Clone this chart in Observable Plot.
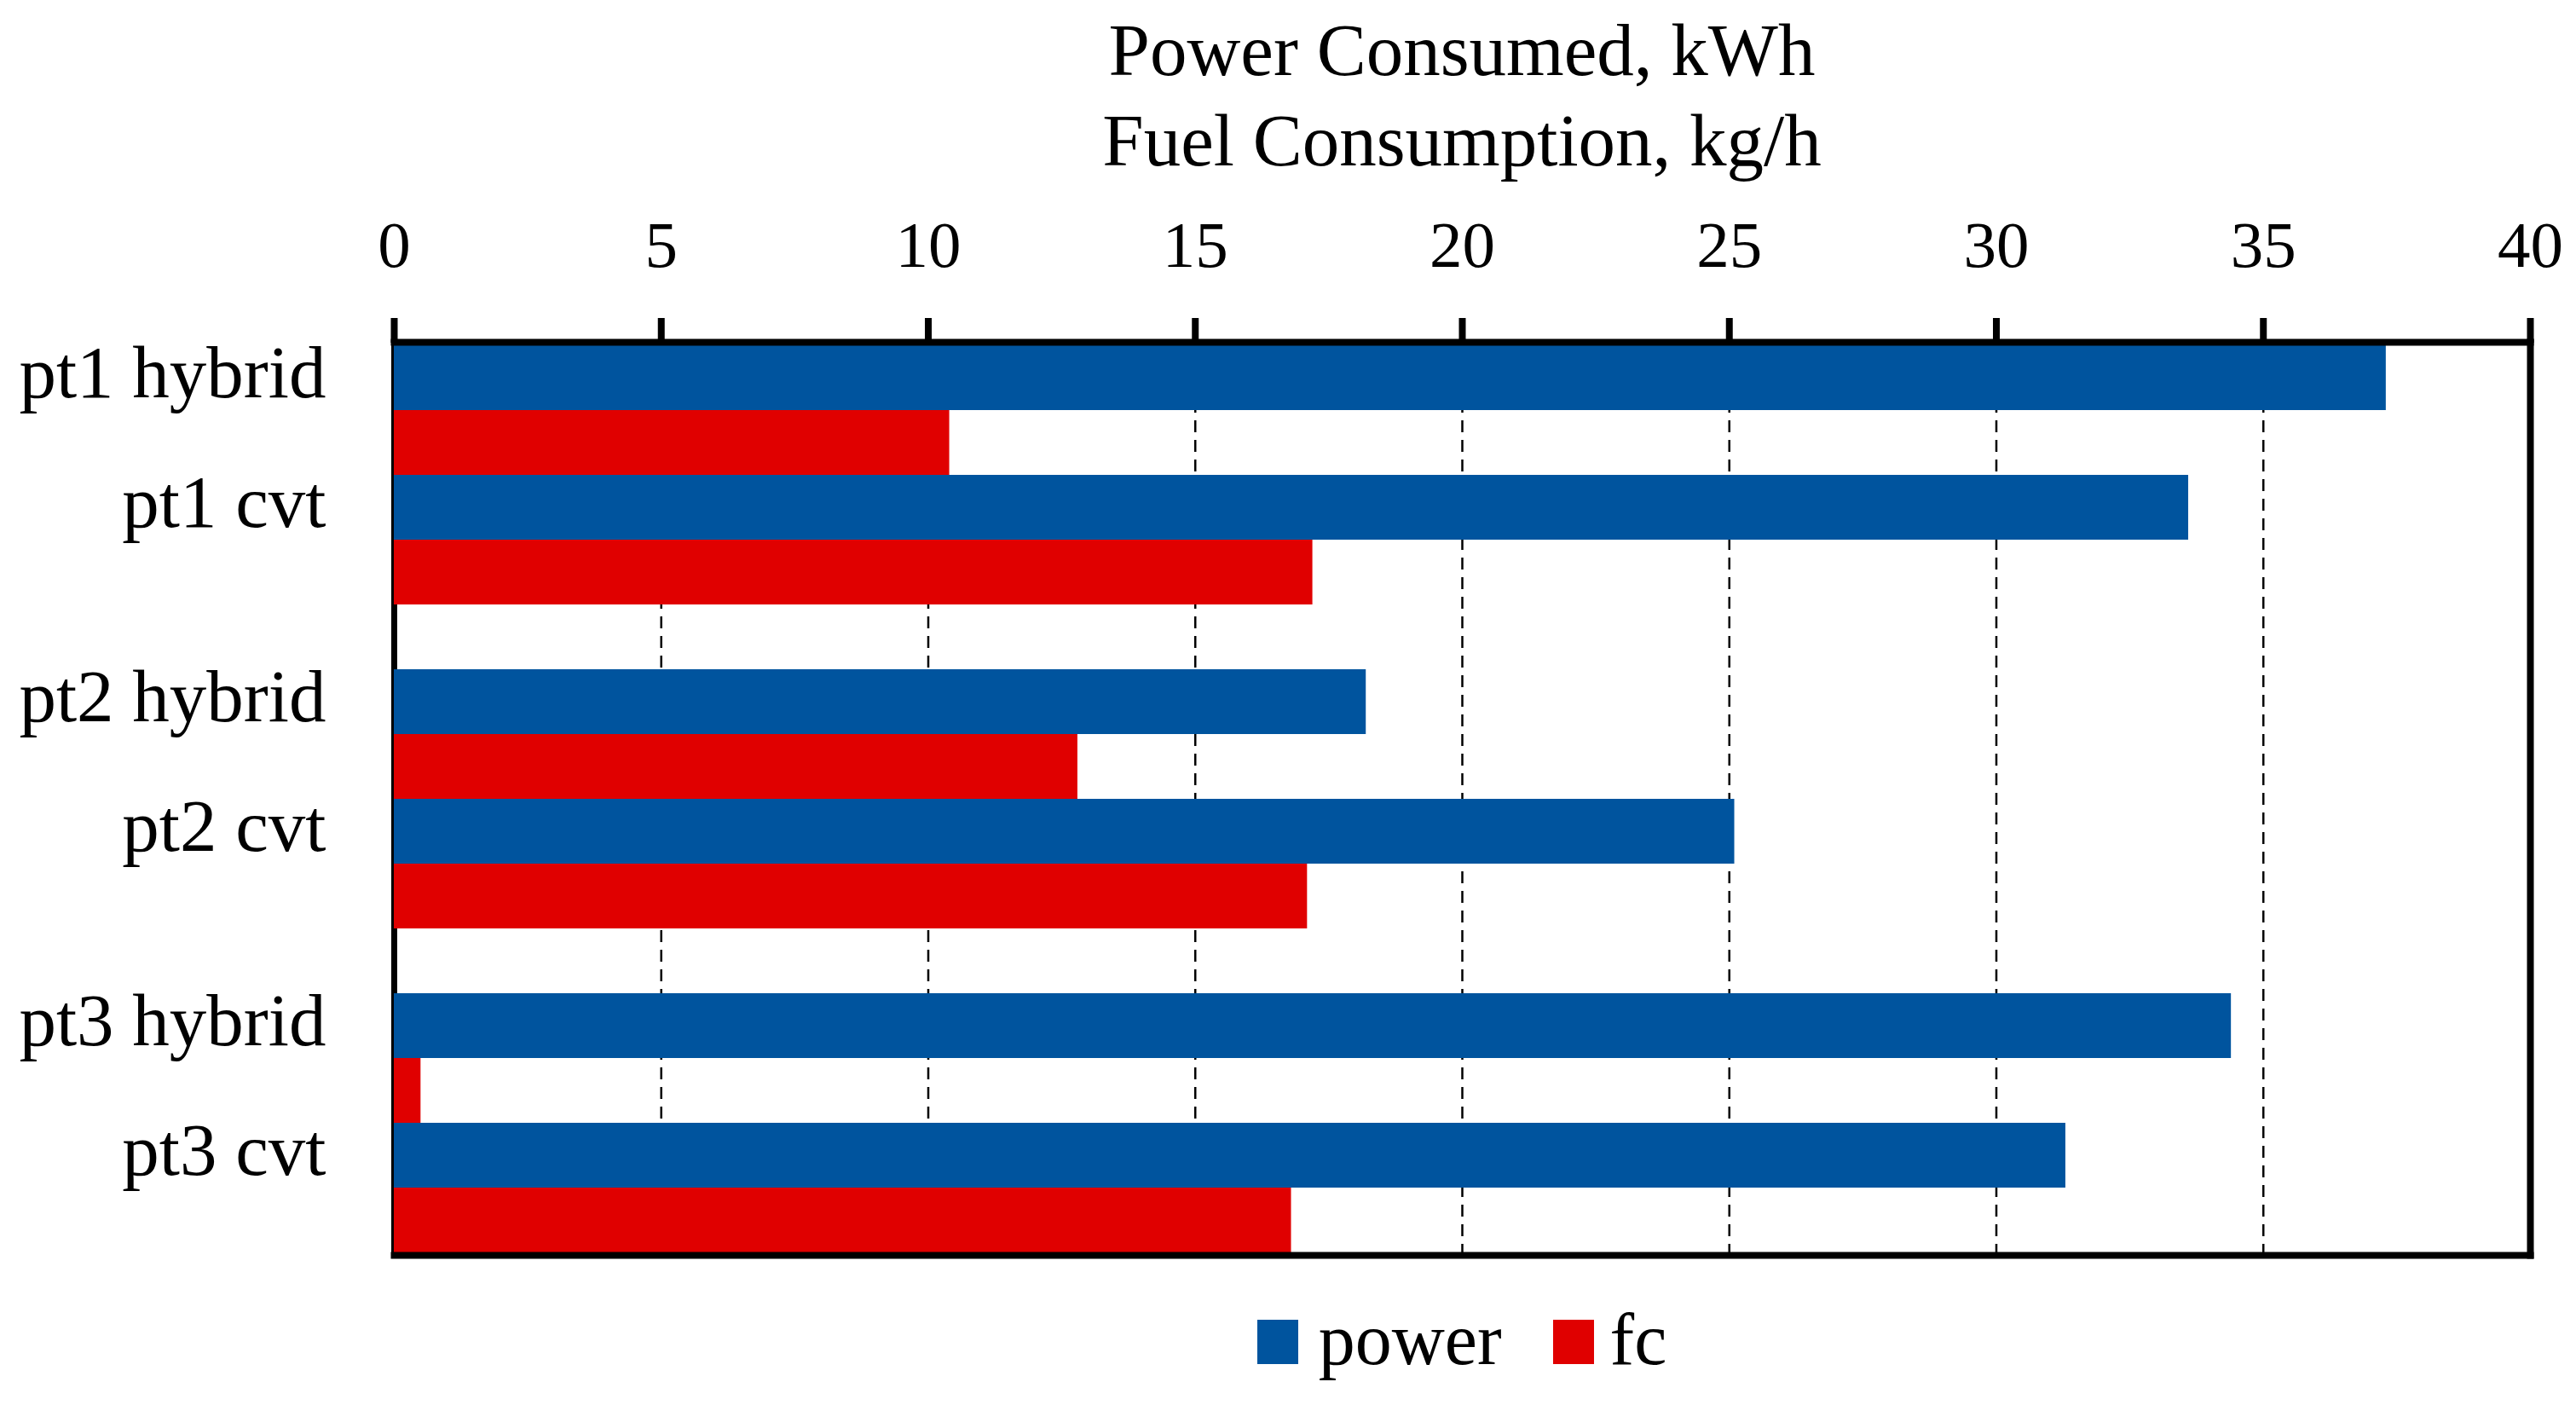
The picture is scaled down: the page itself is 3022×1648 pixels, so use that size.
<!DOCTYPE html>
<html>
<head>
<meta charset="utf-8">
<script src="https://cdn.jsdelivr.net/npm/d3@7"></script>
<script src="https://cdn.jsdelivr.net/npm/@observablehq/plot@0.6"></script>
<style>
  html, body { margin: 0; padding: 0; background: #fff; }
  body { width: 3022px; height: 1648px; overflow: hidden; font-family: "Liberation Serif", serif; color: #000; }
  #title { width: 3022px; height: 220px; box-sizing: border-box; padding-top: 6px; padding-left: 408px; text-align: center; font-size: 87px; line-height: 106px; }
  #chart svg { display: block; }
  #legend { width: 3022px; box-sizing: border-box; padding-top: 37px; padding-left: 408px; text-align: center; font-size: 86px; line-height: 100px; white-space: nowrap; }
  .sw { display: inline-block; width: 48px; height: 52px; vertical-align: baseline; }
  .lab { display: inline-block; }
</style>
</head>
<body>
<div id="title"></div>
<div id="chart"></div>
<div id="legend"></div>
<script>
const titleLines = ["Power Consumed, kWh", "Fuel Consumption, kg/h"];
const categories = ["pt1 hybrid", "pt1 cvt", "pt2 hybrid", "pt2 cvt", "pt3 hybrid", "pt3 cvt"];
const power = [37.3, 33.6, 18.2, 25.1, 34.4, 31.3];
const fc = [10.4, 17.2, 12.8, 17.1, 0.5, 16.8];
const series = ["power", "fc"];
const colors = ["#00549e", "#e00000"];
const xTicks = [0, 5, 10, 15, 20, 25, 30, 35, 40];

document.getElementById("title").innerHTML = titleLines.map(t => `<div>${t}</div>`).join("");

const rows = [];
const domain = [];
categories.forEach((c, i) => {
  rows.push({key: c + "|power", cat: c, series: "power", value: power[i]});
  rows.push({key: c + "|fc", cat: c, series: "fc", value: fc[i]});
  domain.push(c + "|power", c + "|fc");
  if (i % 2 === 1 && i < categories.length - 1) domain.push("gap" + i);
});

const chart = Plot.plot({
  width: 3022,
  height: 1264,
  marginTop: 181,
  marginBottom: 12,
  marginLeft: 462,
  marginRight: 54,
  x: {domain: [0, 40]},
  y: {domain, padding: 0},
  color: {domain: series, range: colors},
  style: {fontFamily: "Liberation Serif", color: "black", background: "white", overflow: "visible"},
  marks: [
    Plot.gridX(xTicks.slice(1, -1), {stroke: "black", strokeOpacity: 1, strokeWidth: 2.5, strokeDasharray: "14,9"}),
    Plot.ruleX([0], {stroke: "black", strokeWidth: 7}),
    Plot.barX(rows, {x: "value", y: "key", fill: "series"}),
    Plot.frame({anchor: "top", stroke: "black", strokeWidth: 8}),
    Plot.frame({anchor: "bottom", stroke: "black", strokeWidth: 8}),
    Plot.frame({anchor: "right", stroke: "black", strokeWidth: 8}),
    Plot.axisX(xTicks, {anchor: "top", tickSize: 29, tickPadding: 60, strokeWidth: 8, fontSize: 77, label: null}),
    Plot.axisY(categories.map(c => c + "|power"), {anchor: "left", tickSize: 0, tickPadding: 80, fontSize: 87, tickFormat: k => k.split("|")[0], label: null, dy: -5})
  ]
});
document.getElementById("chart").appendChild(chart);

document.getElementById("legend").innerHTML =
  `<span class="sw" style="background:${colors[0]}"></span><span class="lab" style="margin-left:24px">${series[0]}</span>` +
  `<span class="sw" style="background:${colors[1]};margin-left:60px"></span><span class="lab" style="margin-left:19px">${series[1]}</span>`;
</script>
</body>
</html>
